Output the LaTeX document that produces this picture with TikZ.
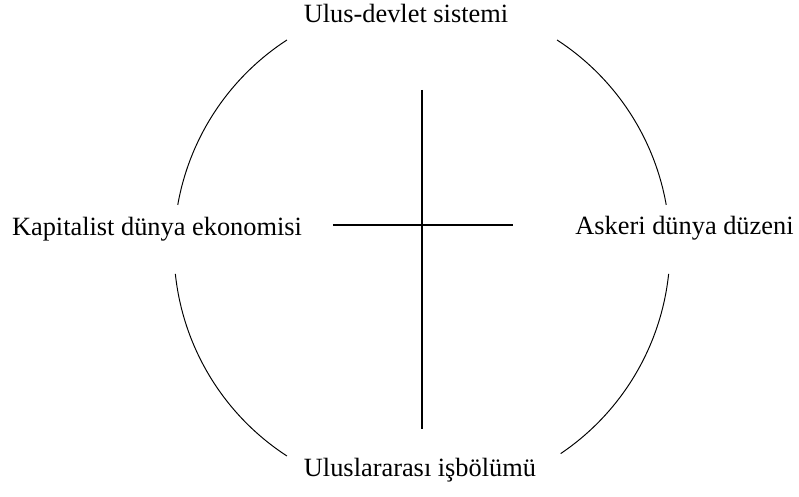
\documentclass[tikz,border=0pt]{standalone}
\usepackage{fontspec}
\setmainfont{Liberation Serif}
\usetikzlibrary{positioning,calc}

\begin{document}
\begin{tikzpicture}[
    lbl/.style={font=\fontsize{15}{18}\selectfont, anchor=base, inner sep=0pt},
    rim/.style={line width=0.55pt},
    cross/.style={line width=0.7pt}
  ]
  \useasboundingbox (-8.44,-4.98) rectangle (7.54,4.96);
  \coordinate (O) at (0,0);

  % Four labels round the circle
  \node[lbl] (ulus)  at (-0.32,4.50)  {Ulus-devlet sistemi};
  \node[lbl] (isbol) at (-0.04,-4.58) {Uluslararası işbölümü};
  \node[lbl] (kapit) at (-5.30,0.24)  {Kapitalist dünya ekonomisi};
  \node[lbl] (asker) at (5.25,0.26)   {Askeri dünya düzeni};

  % Circle, broken at the labels
  \draw[rim] (O) ++(10:4.96)  arc[start angle=10,  end angle=57,  radius=4.96];
  \draw[rim] (O) ++(123:4.96) arc[start angle=123, end angle=170, radius=4.96];
  \draw[rim] (O) ++(186:4.96) arc[start angle=186, end angle=237, radius=4.96];
  \draw[rim] (O) ++(304:4.96) arc[start angle=304, end angle=354, radius=4.96];

  % The cross in the middle
  \coordinate (h1) at (-1.78,0.46);
  \coordinate (h2) at (1.82,0.46);
  \coordinate (v1) at (0,3.16);
  \coordinate (v2) at (0,-3.62);
  \draw[cross] (h1) -- (h2);
  \draw[cross] (v1) -- (v2);
\end{tikzpicture}
\end{document}
